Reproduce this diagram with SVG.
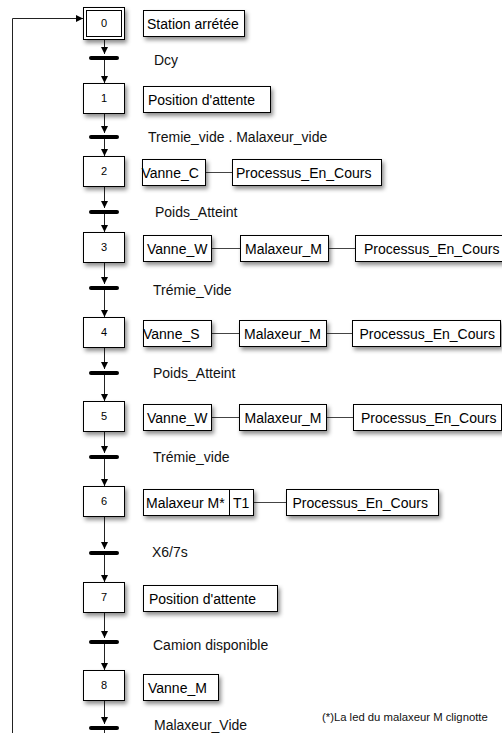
<svg xmlns="http://www.w3.org/2000/svg" width="502" height="733" viewBox="0 0 502 733">
<defs>
<filter id="sh" x="-20%" y="-20%" width="150%" height="170%">
<feDropShadow dx="2" dy="3" stdDeviation="2" flood-color="#000" flood-opacity="0.45"/>
</filter>
<marker id="ar" viewBox="0 0 8 8" refX="8" refY="4" markerWidth="7" markerHeight="7" markerUnits="userSpaceOnUse" orient="auto">
<path d="M0,0 L8,4 L0,8 z" fill="#000"/>
</marker>
</defs>
<style>
rect.st{fill:#fff;stroke:#000;stroke-width:1}
rect.ac{fill:#fff;stroke:#000;stroke-width:1}
.num{font-family:"Liberation Sans",Arial,sans-serif;font-size:11px;fill:#000;text-anchor:middle}
.t{font-family:"Liberation Sans",Arial,sans-serif;font-size:14px;fill:#000}
.lbl{font-family:"Liberation Sans",Arial,sans-serif;font-size:14px;fill:#111}
.note{font-family:"Liberation Sans",Arial,sans-serif;font-size:11.3px;fill:#111}
.bar{stroke:#000;stroke-width:4;stroke-linecap:round}
.vl{stroke:#222;stroke-width:1;fill:none}
.hl{stroke:#444;stroke-width:1;fill:none}
</style>

<g id="connectors">
<path class="vl" d="M104.5,39 V54" marker-end="url(#ar)"/>
<path class="vl" d="M104.5,56 V83" marker-end="url(#ar)"/>
<path class="vl" d="M104.5,113 V133" marker-end="url(#ar)"/>
<path class="vl" d="M104.5,135 V156" marker-end="url(#ar)"/>
<path class="vl" d="M104.5,186 V208" marker-end="url(#ar)"/>
<path class="vl" d="M104.5,210 V232" marker-end="url(#ar)"/>
<path class="vl" d="M104.5,262 V284" marker-end="url(#ar)"/>
<path class="vl" d="M104.5,286 V317" marker-end="url(#ar)"/>
<path class="vl" d="M104.5,347 V369" marker-end="url(#ar)"/>
<path class="vl" d="M104.5,371 V401" marker-end="url(#ar)"/>
<path class="vl" d="M104.5,431 V453" marker-end="url(#ar)"/>
<path class="vl" d="M104.5,455 V486" marker-end="url(#ar)"/>
<path class="vl" d="M104.5,516 V549" marker-end="url(#ar)"/>
<path class="vl" d="M104.5,551 V582" marker-end="url(#ar)"/>
<path class="vl" d="M104.5,612 V638" marker-end="url(#ar)"/>
<path class="vl" d="M104.5,640 V670" marker-end="url(#ar)"/>
<path class="vl" d="M104.5,700 V724" marker-end="url(#ar)"/>
<path class="vl" d="M104.5,726 V740"/>
<path class="vl" d="M12.5,740 V18.5 H83" marker-end="url(#ar)"/>
<line class="bar" x1="91" y1="58" x2="117" y2="58"/>
<line class="bar" x1="91" y1="137" x2="117" y2="137"/>
<line class="bar" x1="91" y1="212" x2="117" y2="212"/>
<line class="bar" x1="91" y1="288" x2="117" y2="288"/>
<line class="bar" x1="91" y1="373" x2="117" y2="373"/>
<line class="bar" x1="91" y1="457" x2="117" y2="457"/>
<line class="bar" x1="91" y1="553" x2="117" y2="553"/>
<line class="bar" x1="91" y1="642" x2="117" y2="642"/>
<line class="bar" x1="91" y1="728" x2="117" y2="728"/>
<!-- action links -->
<path class="hl" d="M206,172.5 H232"/>
<path class="hl" d="M212,248.5 H240"/>
<path class="hl" d="M328,248.5 H355"/>
<path class="hl" d="M212,333.5 H239"/>
<path class="hl" d="M326,333.5 H352"/>
<path class="hl" d="M212,417.5 H239"/>
<path class="hl" d="M327,417.5 H353"/>
<path class="hl" d="M253,502.5 H286"/>
</g>

<g id="step0">
<rect class="st" x="83.5" y="7.5" width="41" height="32" filter="url(#sh)"/>
<rect class="st" x="86.5" y="10.5" width="35" height="26"/>
<text class="num" x="104" y="27">0</text>
</g>
<g id="action0">
<rect class="ac" x="143.5" y="10.5" width="101" height="26" filter="url(#sh)"/>
<text class="t" x="147" y="28.5">Station arrétée</text>
</g>
<g id="trans0"><text class="lbl" x="154" y="65">Dcy</text></g>

<g id="step1">
<rect class="st" x="83.5" y="83.5" width="41" height="30" filter="url(#sh)"/>
<text class="num" x="104" y="102">1</text>
</g>
<g id="action1">
<rect class="ac" x="143.5" y="86.5" width="127" height="26" filter="url(#sh)"/>
<text class="t" x="148" y="104.5">Position d'attente</text>
</g>
<g id="trans1"><text class="lbl" x="148" y="142">Tremie_vide . Malaxeur_vide</text></g>

<g id="step2">
<rect class="st" x="83.5" y="156.5" width="41" height="30" filter="url(#sh)"/>
<text class="num" x="104" y="175">2</text>
</g>
<g id="action2">
<rect class="ac" x="142.5" y="159.5" width="63" height="26" filter="url(#sh)"/>
<text class="t" x="141.5" y="177.5">Vanne_C</text>
<rect class="ac" x="232.5" y="159.5" width="149" height="26" filter="url(#sh)"/>
<text class="t" x="236" y="177.5">Processus_En_Cours</text>
</g>
<g id="trans2"><text class="lbl" x="155" y="217">Poids_Atteint</text></g>

<g id="step3">
<rect class="st" x="83.5" y="232.5" width="41" height="30" filter="url(#sh)"/>
<text class="num" x="104" y="251">3</text>
</g>
<g id="action3">
<rect class="ac" x="143.5" y="235.5" width="68" height="26" filter="url(#sh)"/>
<text class="t" x="147" y="253.5">Vanne_W</text>
<rect class="ac" x="240.5" y="235.5" width="88" height="26" filter="url(#sh)"/>
<text class="t" x="245" y="253.5">Malaxeur_M</text>
<rect class="ac" x="355.5" y="235.5" width="152" height="26" filter="url(#sh)"/>
<text class="t" x="364" y="253.5">Processus_En_Cours</text>
</g>
<g id="trans3"><text class="lbl" x="153" y="295">Trémie_Vide</text></g>

<g id="step4">
<rect class="st" x="83.5" y="317.5" width="41" height="30" filter="url(#sh)"/>
<text class="num" x="104" y="336">4</text>
</g>
<g id="action4">
<rect class="ac" x="143.5" y="320.5" width="68" height="26" filter="url(#sh)"/>
<text class="t" x="143" y="338.5">Vanne_S</text>
<rect class="ac" x="239.5" y="320.5" width="87" height="26" filter="url(#sh)"/>
<text class="t" x="244" y="338.5">Malaxeur_M</text>
<rect class="ac" x="352.5" y="320.5" width="148" height="26" filter="url(#sh)"/>
<text class="t" x="359.5" y="338.5">Processus_En_Cours</text>
</g>
<g id="trans4"><text class="lbl" x="153" y="378">Poids_Atteint</text></g>

<g id="step5">
<rect class="st" x="83.5" y="401.5" width="41" height="30" filter="url(#sh)"/>
<text class="num" x="104" y="420">5</text>
</g>
<g id="action5">
<rect class="ac" x="143.5" y="404.5" width="68" height="26" filter="url(#sh)"/>
<text class="t" x="147" y="422.5">Vanne_W</text>
<rect class="ac" x="239.5" y="404.5" width="87" height="26" filter="url(#sh)"/>
<text class="t" x="244.5" y="422.5">Malaxeur_M</text>
<rect class="ac" x="353.5" y="404.5" width="148" height="26" filter="url(#sh)"/>
<text class="t" x="361" y="422.5">Processus_En_Cours</text>
</g>
<g id="trans5"><text class="lbl" x="153" y="462">Trémie_vide</text></g>

<g id="step6">
<rect class="st" x="83.5" y="486.5" width="41" height="30" filter="url(#sh)"/>
<text class="num" x="104" y="505">6</text>
</g>
<g id="action6">
<rect class="ac" x="143.5" y="489.5" width="110" height="26" filter="url(#sh)"/>
<line x1="229.5" y1="489.5" x2="229.5" y2="515.5" stroke="#000"/>
<text class="t" x="146" y="507.5">Malaxeur M*</text>
<text class="t" x="233" y="507.5">T1</text>
<rect class="ac" x="286.5" y="489.5" width="152" height="26" filter="url(#sh)"/>
<text class="t" x="292.5" y="507.5">Processus_En_Cours</text>
</g>
<g id="trans6"><text class="lbl" x="152" y="557">X6/7s</text></g>

<g id="step7">
<rect class="st" x="83.5" y="582.5" width="41" height="30" filter="url(#sh)"/>
<text class="num" x="104" y="601">7</text>
</g>
<g id="action7">
<rect class="ac" x="143.5" y="585.5" width="134" height="26" filter="url(#sh)"/>
<text class="t" x="149" y="603.5">Position d'attente</text>
</g>
<g id="trans7"><text class="lbl" x="153" y="650">Camion disponible</text></g>

<g id="step8">
<rect class="st" x="83.5" y="670.5" width="41" height="30" filter="url(#sh)"/>
<text class="num" x="104" y="689">8</text>
</g>
<g id="action8">
<rect class="ac" x="143.5" y="674.5" width="75" height="26" filter="url(#sh)"/>
<text class="t" x="148" y="692.5">Vanne_M</text>
</g>
<g id="trans8"><text class="lbl" x="154" y="730">Malaxeur_Vide</text></g>

<text class="note" x="322" y="721">(*)La led du malaxeur M clignotte</text>
</svg>
